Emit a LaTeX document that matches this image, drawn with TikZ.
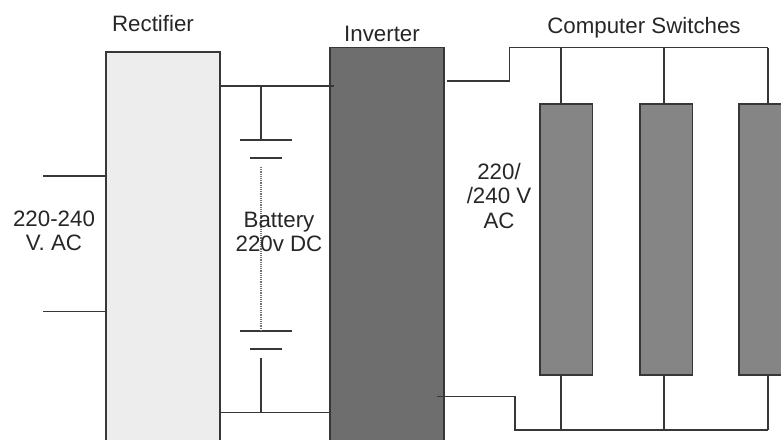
\documentclass[tikz,border=0pt]{standalone}
\usepackage{fontspec}
\setmainfont{Liberation Sans}
\definecolor{rectgray}{RGB}{237,237,237}
\definecolor{invgray}{RGB}{110,110,110}
\definecolor{switchgray}{RGB}{133,133,133}
\definecolor{linegray}{RGB}{55,55,55}
\tikzset{
  unitbox/.style={draw=linegray, line width=1.4pt, inner sep=0pt, outer sep=0pt, anchor=north west},
  wire/.style={draw=linegray, line width=1.2pt},
  longplate/.style={minimum width=52pt, inner sep=0pt, outer sep=0pt, minimum height=0pt},
  shortplate/.style={minimum width=32pt, inner sep=0pt, outer sep=0pt, minimum height=0pt},
  caption/.style={text=black!85, font=\fontsize{22.3}{24.5}\selectfont, align=center, inner sep=0pt}
}

\begin{document}
\begin{tikzpicture}[x=1pt, y=-1pt]
    \useasboundingbox (0,0) rectangle (781,439);
    \clip (0,0) rectangle (781,439);
    % blocks
    \node[unitbox, fill=rectgray, minimum width=114pt, minimum height=420pt] (rectifier) at (106,52) {};
    \node[unitbox, fill=invgray, minimum width=114pt, minimum height=420pt] (inverter) at (330,47.5) {};
    \foreach \name/\x in {swa/540, swb/640, swc/739}
      \node[unitbox, fill=switchgray, minimum width=52.5pt, minimum height=271pt] (\name) at (\x,104) {};
    % free ends of the wires
    \coordinate (inA) at (43,176);
    \coordinate (inB) at (43,311.5);
    \coordinate (dcA) at (334,86);
    \coordinate (dcB) at (330,412.7);
    \coordinate (outA) at (447,81);
    \coordinate (outB) at (437,396.5);
    \coordinate (busA) at (768,47.5);
    \coordinate (busB) at (768,430);
    \coordinate (tapA) at (261,86);
    \coordinate (tapB) at (261,412.7);
    \coordinate (dotA) at (261,167);
    \coordinate (dotB) at (261,330);
    \coordinate (tailB) at (261,358);
    % battery plates
    \node[longplate] (plateA) at (266,140) {};
    \node[shortplate] (plateB) at (266,158) {};
    \node[longplate] (plateC) at (266,331) {};
    \node[shortplate] (plateD) at (266,349) {};
    \foreach \plate in {plateA, plateB, plateC, plateD}
      \draw[wire] (\plate.west) -- (\plate.east);
    \draw[wire] (inA) -- (inA -| rectifier.west);
    \draw[wire] (inB) -- (inB -| rectifier.west);
    \draw[wire] (dcA -| rectifier.east) -- (dcA);
    \draw[wire] (dcB -| rectifier.east) -- (dcB);
    \draw[wire] (tapA) -- (tapA |- plateA);
    \draw[draw=black!55, line width=1.2pt, densely dotted] (dotA) -- (dotB);
    \draw[wire] (tailB) -- (tapB);
    % switch feeds
    \draw[wire] (outA) -- (509.5,81) -- (509.5,47.5) -- (busA);
    \draw[wire] (outB) -- (515,396.5) -- (515,430) -- (busB);
    \foreach \name/\x in {swa/561, swb/664, swc/768} {
      \coordinate (drop) at (\x,0);
      \draw[wire] (drop |- busA) -- (drop |- \name.north);
      \draw[wire] (drop |- \name.south) -- (drop |- busB);
    }
    % labels
    \node[caption] (rectlabel) at (153,24) {Rectifier};
    \node[caption] (invlabel) at (382,34) {Inverter};
    \node[caption] (swlabel) at (644,28) {Computer Switches};
    \node[caption] (aclabel) at (54,231) {220-240\\V. AC};
    \node[caption] (batlabel) at (279,232) {Battery\\220v DC};
    \node[caption] (outlabel) at (499,196) {220/\\/240 V\\AC};
  \end{tikzpicture}
\end{document}
